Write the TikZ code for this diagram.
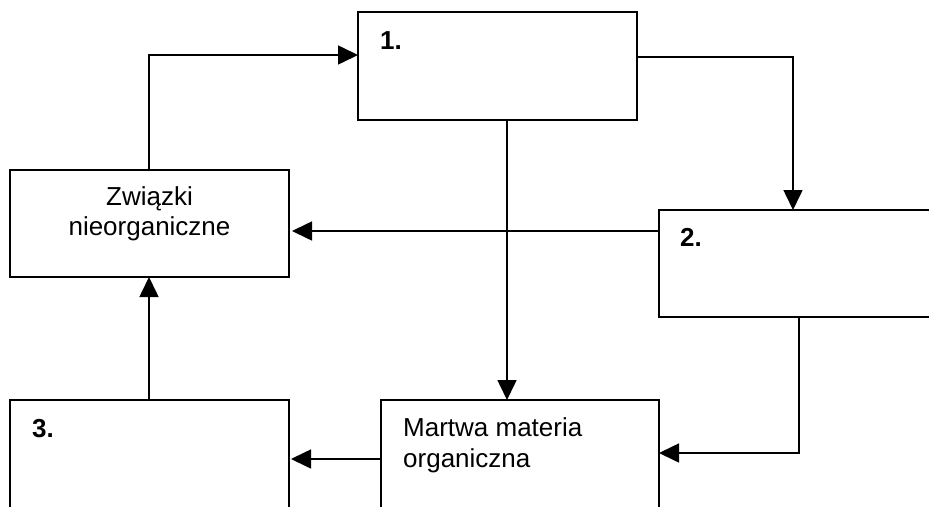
\documentclass[tikz,border=0pt]{standalone}
\usepackage{fontspec}
\setmainfont{Liberation Sans}
\usetikzlibrary{arrows.meta,calc}
\begin{document}
\begin{tikzpicture}[x=1pt,y=-1pt,
  box/.style={draw,line width=1.8pt,rectangle,inner sep=0pt,outer sep=0pt,anchor=north west},
  arr/.style={line width=1.6pt,-{Triangle[length=20pt,width=19pt]}},
  txt/.style={font=\fontsize{26}{30}\selectfont,inner sep=0pt},
  num/.style={font=\fontsize{26}{30}\selectfont\bfseries,inner sep=0pt,anchor=base west}]
\clip (0,0) rectangle (929,506);
\fill[white] (0,0) rectangle (929,506);
% boxes
\node[box,minimum width=279pt,minimum height=108pt] (b1) at (358,12) {};
\node[box,minimum width=279pt,minimum height=107pt] (z) at (10,170) {};
\node[box,minimum width=290pt,minimum height=107pt] (b2) at (659,210) {};
\node[box,minimum width=279pt,minimum height=130pt] (b3) at (10,400) {};
\node[box,minimum width=278pt,minimum height=130pt] (m) at (381,400) {};
% texts
\node[txt,anchor=base] (z1) at (149.5,205) {Związki};
\node[txt,anchor=base] (z2) at (149.5,235) {nieorganiczne};
\node[num] (n1) at (380,49) {1.};
\node[num] (n2) at (680,246) {2.};
\node[num] (n3) at (32,437) {3.};
\node[txt,anchor=base west] (m1) at (403,436) {Martwa materia};
\node[txt,anchor=base west] (m2) at (403,467) {organiczna};
% connector helper coordinates
\coordinate (c1) at (149,55);
\coordinate (c2) at (793,57);
\coordinate (c3) at (799,453);
% connectors
\draw[arr] ($(z.north west)+(139,0)$) -- (c1) -- (c1 -| b1.west);
\draw[arr] (b1.east |- c2) -- (c2) -- (c2 |- b2.north);
\draw[arr] ($(b2.north west)+(0,21)$) -- ++(-367,0);
\draw[arr] ($(b1.south west)+(149,0)$) -- ($(m.north west)+(126,0)$);
\draw[arr] ($(b2.south west)+(140,0)$) -- (c3) -- (c3 -| m.east);
\draw[arr] ($(m.north west)+(0,59)$) -- ++(-90,0);
\draw[arr] ($(b3.north west)+(139,0)$) -- ($(z.south west)+(139,0)$);
\end{tikzpicture}
\end{document}
